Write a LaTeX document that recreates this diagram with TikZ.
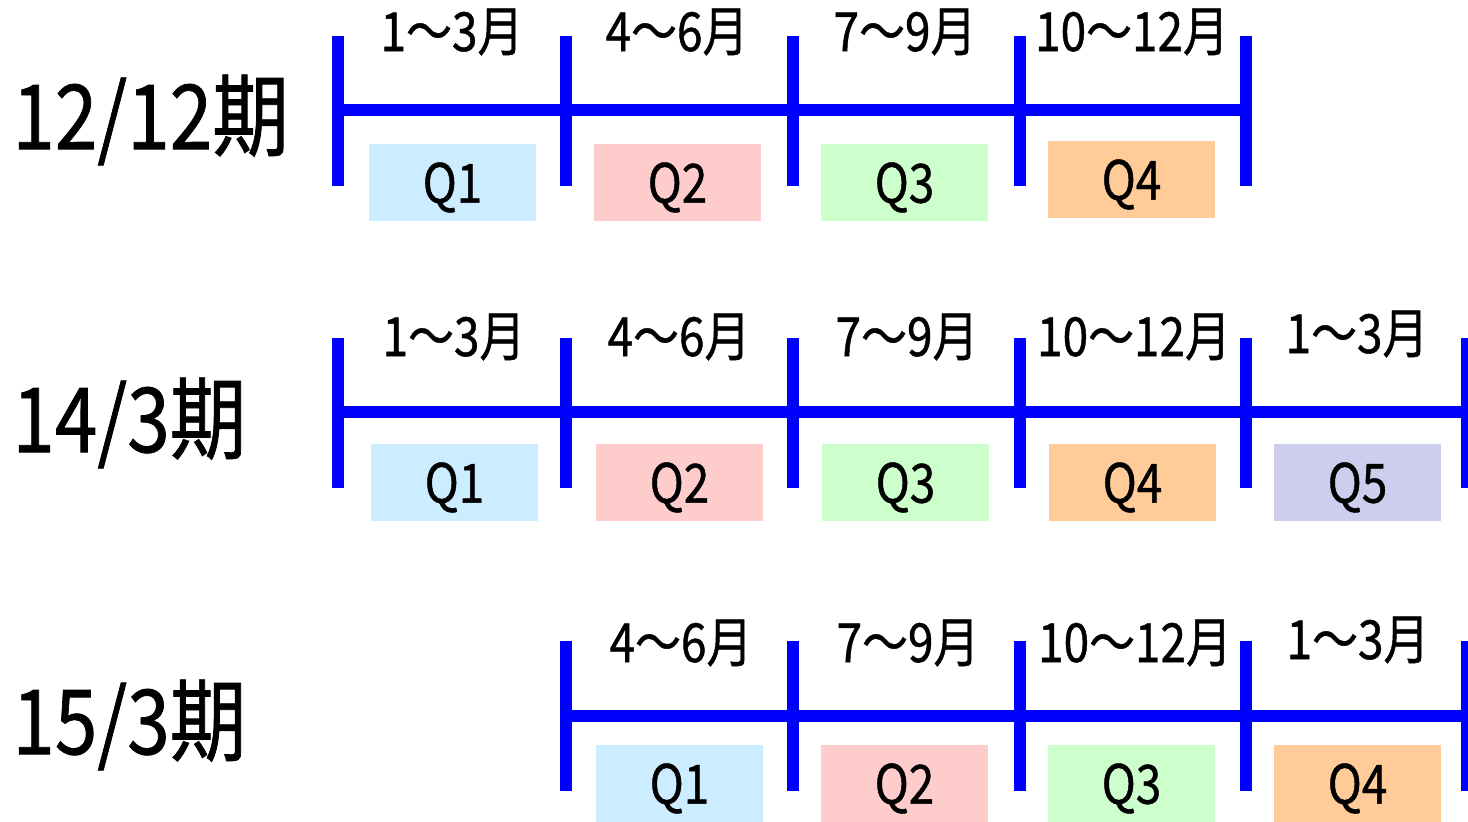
\documentclass[tikz,border=0pt]{standalone}
\usepackage{fontspec}
\usepackage{xcolor}
\setmainfont{Noto Sans CJK JP}[FakeStretch=0.85,FakeBold=0.8]

\definecolor{axisblue}{HTML}{0000FF}
\definecolor{qone}{HTML}{CCECFF}
\definecolor{qtwo}{HTML}{FFCCCC}
\definecolor{qthree}{HTML}{CCFFCC}
\definecolor{qfour}{HTML}{FFCC99}
\definecolor{qfive}{HTML}{CDCDEE}

\begin{document}
\begin{tikzpicture}[x=0.5pt,y=-0.5pt,
    axis/.style={draw=axisblue,line width=6pt},
    qbox/.style={minimum width=83.5pt,minimum height=38.5pt,inner sep=0pt},
    qtext/.style={inner sep=0pt,font=\fontsize{27pt}{27pt}\selectfont},
    month/.style={inner sep=0pt,font=\fontsize{27pt}{27pt}\selectfont},
    period/.style={anchor=west,inner sep=0pt,font=\fontsize{45pt}{45pt}\selectfont}]
    \useasboundingbox (0,0) rectangle (1468,822);

    % 12/12 term
    \node[period] (p1) at (12,120) {12/12期};
    \draw[axis] (338,110) -- (1246,110);
    \draw[axis] (338,36) -- (338,186);
    \draw[axis] (566,36) -- (566,186);
    \draw[axis] (793,36) -- (793,186);
    \draw[axis] (1020,36) -- (1020,186);
    \draw[axis] (1246,36) -- (1246,186);
    \node[month] (m11) at (452,32) {1〜3月};
    \node[month] (m12) at (677,32) {4〜6月};
    \node[month] (m13) at (905,32) {7〜9月};
    \node[month] (m14) at (1132,32) {10〜12月};
    \node[qbox,fill=qone] (q11) at (452.5,182.5) {};
    \node[qbox,fill=qtwo] (q12) at (677.5,182.5) {};
    \node[qbox,fill=qthree] (q13) at (904.5,182.5) {};
    \node[qbox,fill=qfour] (q14) at (1131.5,179.5) {};
    \node[qtext] (t11) at ([yshift=-2.5pt]q11) {Q1};
    \node[qtext] (t12) at ([yshift=-2.5pt]q12) {Q2};
    \node[qtext] (t13) at ([yshift=-2.5pt]q13) {Q3};
    \node[qtext] (t14) at ([yshift=-2.5pt]q14) {Q4};

    % 14/3 term
    \node[period] (p2) at (12,423) {14/3期};
    \draw[axis] (338,412) -- (1468,412);
    \draw[axis] (338,338) -- (338,488);
    \draw[axis] (566,338) -- (566,488);
    \draw[axis] (793,338) -- (793,488);
    \draw[axis] (1020,338) -- (1020,488);
    \draw[axis] (1246,338) -- (1246,488);
    \draw[axis] (1467,338) -- (1467,488);
    \node[month] (m21) at (454,337) {1〜3月};
    \node[month] (m22) at (679,337) {4〜6月};
    \node[month] (m23) at (907,337) {7〜9月};
    \node[month] (m24) at (1134,337) {10〜12月};
    \node[month] (m25) at (1357,334) {1〜3月};
    \node[qbox,fill=qone] (q21) at (454.5,482.5) {};
    \node[qbox,fill=qtwo] (q22) at (679.5,482.5) {};
    \node[qbox,fill=qthree] (q23) at (905.5,482.5) {};
    \node[qbox,fill=qfour] (q24) at (1132.5,482.5) {};
    \node[qbox,fill=qfive] (q25) at (1357.5,482.5) {};
    \node[qtext] (t21) at ([yshift=-2.5pt]q21) {Q1};
    \node[qtext] (t22) at ([yshift=-2.5pt]q22) {Q2};
    \node[qtext] (t23) at ([yshift=-2.5pt]q23) {Q3};
    \node[qtext] (t24) at ([yshift=-2.5pt]q24) {Q4};
    \node[qtext] (t25) at ([yshift=-2.5pt]q25) {Q5};

    % 15/3 term
    \node[period] (p3) at (12,725) {15/3期};
    \draw[axis] (566,716) -- (1468,716);
    \draw[axis] (566,641) -- (566,791);
    \draw[axis] (793,641) -- (793,791);
    \draw[axis] (1020,641) -- (1020,791);
    \draw[axis] (1246,641) -- (1246,791);
    \draw[axis] (1467,641) -- (1467,791);
    \node[month] (m31) at (681,643) {4〜6月};
    \node[month] (m32) at (908,643) {7〜9月};
    \node[month] (m33) at (1135,643) {10〜12月};
    \node[month] (m34) at (1358,640) {1〜3月};
    \node[qbox,fill=qone] (q31) at (679.5,783.5) {};
    \node[qbox,fill=qtwo] (q32) at (904.5,783.5) {};
    \node[qbox,fill=qthree] (q33) at (1131.5,783.5) {};
    \node[qbox,fill=qfour] (q34) at (1357.5,783.5) {};
    \node[qtext] (t31) at ([yshift=-2.5pt]q31) {Q1};
    \node[qtext] (t32) at ([yshift=-2.5pt]q32) {Q2};
    \node[qtext] (t33) at ([yshift=-2.5pt]q33) {Q3};
    \node[qtext] (t34) at ([yshift=-2.5pt]q34) {Q4};
  \end{tikzpicture}
\end{document}
